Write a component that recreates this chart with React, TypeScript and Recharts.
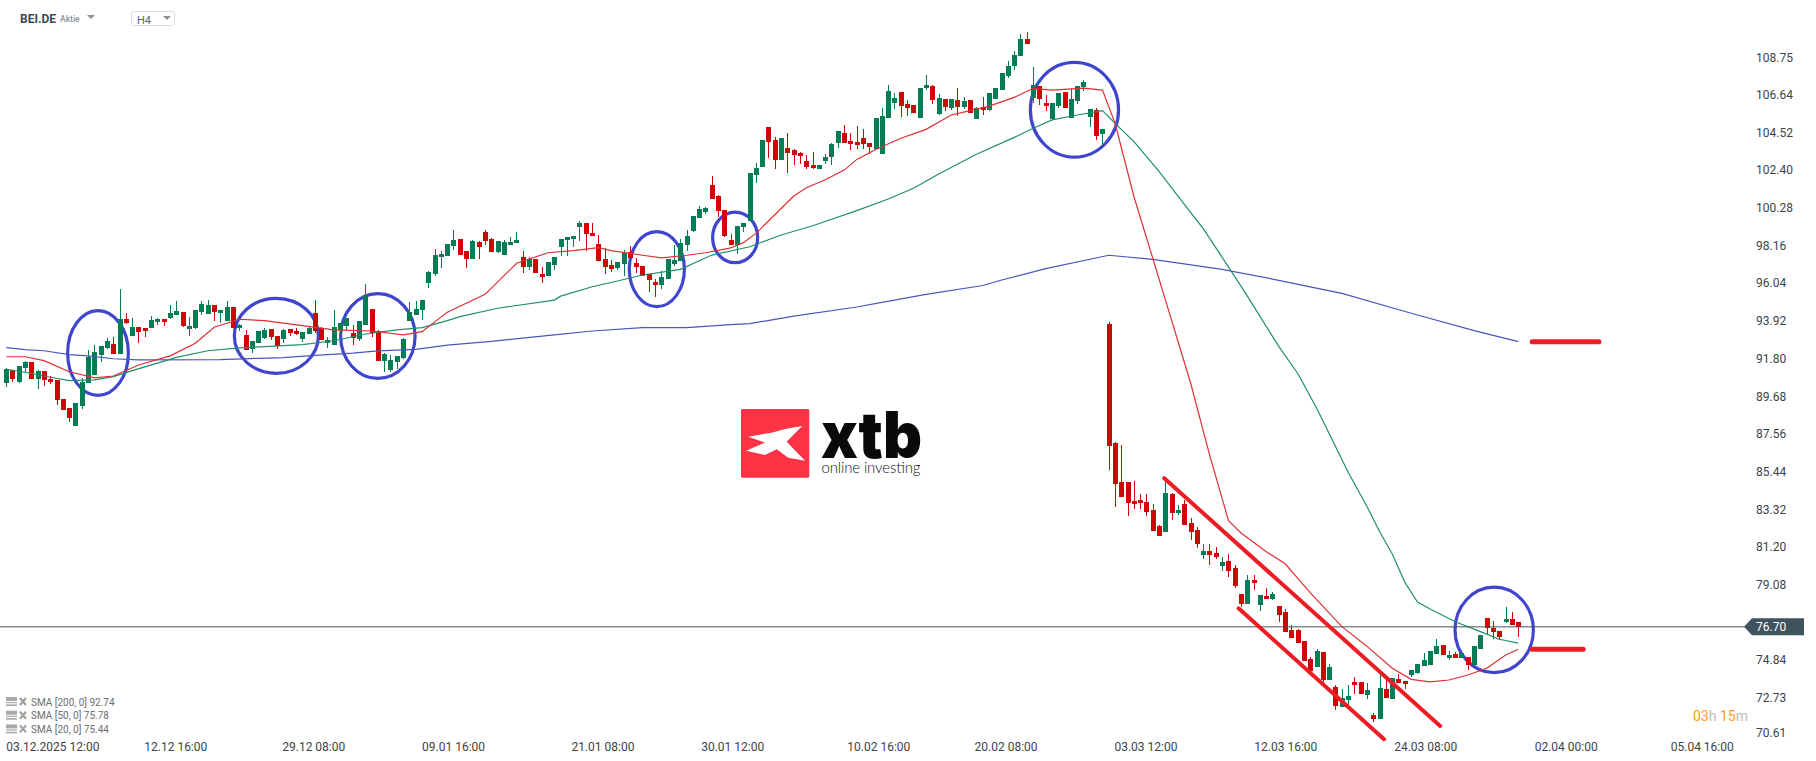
import { Bar, ComposedChart, Line, ReferenceArea, ReferenceLine, XAxis, YAxis } from 'recharts';

const FONT = 'Roboto, sans-serif';
const UP = '#047d57';
const DOWN = '#d00606';
const MARK = '#ee1c25';
const RING = '#3f45cc';

const opens = [
  90.43, 91.17, 90.47, 91.26, 91.6, 90.64, 91.09, 90.64, 90.58, 89.51,
  89.0, 87.98, 89.11, 90.4, 90.86, 91.99, 92.38, 92.61, 92.04, 94.02,
  93.06, 93.57, 93.51, 93.51, 93.85, 94.02, 94.08, 94.25, 94.42, 93.45,
  93.51, 94.42, 94.3, 94.81, 94.36, 93.91, 94.7, 93.51, 93.12, 92.32,
  92.66, 92.95, 93.45, 93.06, 92.89, 93.45, 93.34, 92.89, 93.17, 94.36,
  93.51, 92.66, 92.55, 93.4, 93.62, 93.23, 92.89, 93.68, 94.59, 93.34,
  91.65, 91.14, 91.59, 91.82, 93.91, 94.25, 94.53, 96.05, 96.53, 97.49,
  97.54, 98.11, 98.51, 97.83, 97.37, 98.34, 98.9, 98.51, 97.77, 97.6,
  98.17, 98.28, 97.49, 96.92, 97.38, 96.53, 96.41, 97.04, 98.05, 98.45,
  98.51, 99.18, 99.41, 98.84, 98.22, 97.37, 97.04, 96.87, 97.09, 97.77,
  97.15, 96.98, 96.53, 96.07, 95.91, 96.24, 97.09, 97.26, 98.17, 98.96,
  99.69, 100.03, 101.56, 100.94, 100.14, 98.45, 98.17, 99.19, 99.55, 102.1,
  102.55, 104.81, 104.07, 102.94, 103.62, 103.51, 103.34, 102.89, 102.66, 102.43,
  102.89, 103.11, 103.9, 104.47, 104.02, 103.96, 104.19, 103.9, 103.57, 103.28,
  105.32, 106.17, 106.79, 106.11, 106.06, 105.32, 107.02, 107.13, 105.55, 106.39,
  105.89, 106.34, 105.94, 106.34, 105.26, 105.94, 105.77, 106.39, 106.9, 107.69,
  108.26, 108.83, 109.79, 106.45, 107.13, 106.17, 105.26, 106.0, 106.79, 105.32,
  106.28, 107.07, 105.38, 105.77, 104.42, 93.76, 87.04, 84.87, 84.82, 83.8,
  83.86, 83.74, 83.29, 82.39, 82.05, 84.19, 83.12, 83.63, 82.56, 82.16,
  80.75, 80.97, 80.86, 80.12, 80.41, 80.01, 78.56, 77.99, 79.35, 77.94,
  78.44, 78.28, 77.88, 77.54, 76.52, 76.52, 75.9, 74.88, 74.43, 75.28,
  73.7, 73.31, 72.18, 72.58, 73.59, 73.59, 72.86, 71.73, 71.5, 73.2,
  72.63, 73.76, 73.65, 73.99, 74.1, 74.5, 74.56, 75.18, 75.69, 74.95,
  75.18, 74.95, 75.01, 74.56, 75.46, 77.21, 76.65, 76.48, 76.99, 77.15, 76.99,
];

const highs = [
  91.24, 91.17, 91.37, 91.64, 91.6, 91.15, 91.09, 90.81, 90.58, 89.51,
  89.0, 89.28, 90.7, 92.27, 92.55, 92.49, 92.95, 93.0, 95.72, 94.36,
  94.08, 93.57, 93.51, 94.19, 94.08, 94.02, 94.81, 95.04, 94.42, 94.13,
  94.53, 95.04, 95.09, 94.81, 94.53, 95.04, 94.7, 93.74, 93.4, 92.78,
  93.34, 93.51, 93.45, 93.06, 93.45, 93.45, 93.51, 93.29, 93.57, 95.09,
  93.57, 93.0, 94.53, 93.79, 94.08, 93.68, 93.91, 96.0, 94.59, 93.4,
  92.1, 91.99, 91.93, 92.95, 94.98, 95.04, 95.09, 96.73, 97.94, 97.83,
  98.22, 99.01, 98.51, 97.83, 98.45, 98.39, 99.03, 98.56, 98.39, 98.45,
  98.62, 98.9, 97.83, 97.49, 97.38, 96.92, 97.21, 97.49, 98.51, 98.62,
  98.67, 99.52, 99.41, 99.41, 98.73, 98.0, 97.32, 97.21, 97.88, 98.11,
  97.43, 96.98, 96.53, 96.24, 96.7, 97.37, 98.17, 98.51, 99.01, 99.81,
  100.37, 100.31, 102.07, 101.0, 100.14, 98.79, 99.24, 99.41, 102.21, 102.77,
  104.07, 104.81, 104.24, 104.19, 104.47, 103.55, 103.4, 103.23, 103.4, 102.66,
  103.28, 103.9, 104.58, 104.92, 104.47, 104.87, 104.7, 103.9, 105.32, 105.88,
  107.19, 106.73, 106.79, 106.34, 106.06, 107.02, 107.75, 107.19, 106.68, 106.39,
  106.39, 107.02, 106.51, 106.34, 105.94, 106.51, 106.73, 107.02, 107.86, 108.54,
  109.11, 110.07, 110.18, 108.2, 107.13, 106.62, 106.17, 106.73, 106.79, 106.96,
  107.13, 107.47, 105.83, 105.89, 104.7, 93.82, 87.09, 86.91, 84.82, 84.93,
  84.2, 84.2, 83.63, 82.42, 85.08, 84.23, 83.57, 83.86, 82.84, 82.33,
  81.37, 81.37, 81.2, 80.63, 80.8, 80.18, 78.56, 79.63, 79.63, 78.5,
  78.9, 78.67, 77.88, 77.71, 76.8, 76.57, 75.9, 75.0, 75.45, 75.28,
  74.6, 73.42, 73.2, 73.42, 73.88, 73.59, 73.54, 71.84, 73.99, 73.71,
  73.82, 74.05, 73.65, 74.27, 74.61, 75.23, 75.35, 76.02, 75.69, 75.35,
  75.29, 75.23, 75.01, 75.63, 76.25, 77.21, 77.04, 76.48, 77.83, 77.55, 76.99,
];

const lows = [
  90.21, 90.47, 90.41, 91.05, 90.64, 90.08, 90.24, 90.36, 89.17, 88.89,
  88.21, 87.98, 88.94, 90.4, 90.86, 91.59, 92.32, 92.04, 92.04, 93.74,
  93.06, 92.66, 93.0, 93.51, 93.68, 93.62, 94.02, 94.25, 93.57, 93.06,
  93.45, 94.25, 94.3, 93.91, 93.79, 93.91, 93.51, 93.34, 92.27, 92.1,
  92.66, 92.89, 92.83, 92.32, 92.66, 93.06, 93.12, 92.72, 93.17, 93.23,
  92.83, 92.38, 92.55, 93.17, 93.4, 92.55, 92.78, 93.68, 93.0, 91.65,
  91.02, 91.02, 91.19, 91.76, 93.91, 94.25, 93.96, 95.77, 96.41, 96.87,
  97.54, 97.88, 97.6, 96.87, 97.37, 97.37, 98.17, 97.77, 97.71, 97.6,
  98.17, 98.28, 96.58, 96.75, 96.58, 96.02, 96.41, 96.75, 97.54, 97.54,
  98.05, 98.39, 97.83, 98.67, 97.26, 96.53, 96.64, 96.75, 96.41, 97.43,
  96.58, 96.41, 95.51, 95.23, 95.68, 96.24, 96.98, 97.26, 97.83, 98.9,
  99.69, 99.92, 100.77, 99.77, 98.63, 98.17, 97.66, 98.9, 99.55, 101.64,
  102.55, 103.06, 102.43, 102.94, 102.21, 102.66, 102.72, 102.43, 102.43, 102.43,
  102.72, 102.66, 103.62, 103.9, 103.51, 103.57, 103.57, 103.28, 103.57, 103.28,
  105.32, 105.83, 105.38, 105.43, 105.6, 105.32, 106.9, 106.11, 105.49, 105.72,
  105.77, 105.43, 105.83, 105.6, 105.26, 105.49, 105.72, 106.39, 106.9, 107.58,
  108.03, 108.83, 109.5, 106.17, 106.06, 105.72, 105.26, 105.89, 105.89, 105.32,
  106.11, 106.85, 104.81, 104.08, 103.74, 85.51, 83.42, 84.03, 82.95, 83.34,
  83.34, 82.95, 82.1, 81.82, 82.05, 82.73, 83.01, 82.44, 81.59, 81.14,
  80.52, 80.18, 80.52, 79.84, 79.5, 78.88, 77.82, 77.99, 78.78, 77.6,
  78.28, 78.22, 76.98, 76.41, 76.07, 75.79, 74.77, 74.21, 74.43, 73.58,
  73.7, 72.01, 72.18, 72.07, 72.92, 72.92, 72.66, 71.33, 71.5, 72.69,
  72.63, 73.54, 73.2, 73.88, 74.06, 74.5, 74.56, 75.18, 75.12, 74.84,
  74.95, 74.95, 74.27, 74.56, 75.46, 76.31, 76.02, 75.97, 76.93, 76.82, 76.14,
];

const closes = [
  91.2, 90.64, 91.37, 91.6, 90.64, 91.09, 90.58, 90.47, 89.45, 88.89,
  88.43, 89.28, 90.47, 91.89, 92.15, 92.49, 92.78, 92.04, 94.02, 93.79,
  93.57, 93.29, 93.34, 93.96, 94.02, 93.85, 94.36, 94.47, 93.62, 93.62,
  94.53, 94.87, 94.81, 94.42, 94.53, 94.7, 93.51, 93.68, 92.27, 92.78,
  93.34, 93.4, 93.0, 92.49, 93.4, 93.23, 93.17, 93.29, 93.51, 93.34,
  92.83, 92.83, 93.57, 93.79, 94.08, 92.97, 93.91, 95.38, 93.23, 91.65,
  92.04, 91.7, 91.93, 92.89, 94.42, 94.59, 95.09, 96.68, 97.6, 97.66,
  98.22, 98.45, 97.6, 97.37, 98.39, 98.05, 98.39, 97.77, 98.39, 98.34,
  98.34, 98.45, 96.92, 97.38, 96.58, 96.36, 97.21, 97.49, 98.51, 98.62,
  98.67, 99.41, 98.79, 98.67, 97.26, 96.92, 96.81, 97.21, 97.71, 97.43,
  96.92, 96.41, 96.19, 95.91, 96.36, 97.37, 97.32, 98.28, 98.67, 99.81,
  100.2, 100.26, 100.77, 100.09, 98.67, 98.17, 99.24, 99.41, 102.21, 102.49,
  104.07, 103.96, 102.94, 104.19, 103.34, 103.23, 103.17, 102.55, 102.49, 102.66,
  103.11, 103.85, 104.58, 103.9, 103.85, 103.79, 103.85, 103.68, 105.32, 105.43,
  106.85, 106.45, 106.0, 105.89, 105.6, 107.02, 107.19, 106.34, 106.45, 105.94,
  106.39, 105.94, 106.28, 105.6, 105.89, 105.77, 106.73, 107.02, 107.86, 108.26,
  108.88, 109.79, 109.5, 107.19, 106.39, 106.0, 106.17, 106.73, 105.89, 106.39,
  107.13, 107.36, 105.83, 104.3, 104.7, 86.87, 84.72, 84.03, 83.69, 83.63,
  83.69, 83.18, 82.1, 81.82, 84.25, 83.12, 83.29, 82.44, 82.05, 81.37,
  80.97, 80.75, 80.63, 80.35, 79.84, 79.0, 77.99, 79.35, 79.18, 78.5,
  78.28, 78.56, 77.37, 76.41, 76.07, 75.79, 74.77, 74.21, 75.34, 73.7,
  74.43, 72.24, 72.69, 72.8, 73.42, 72.92, 73.14, 71.5, 73.26, 72.69,
  73.82, 73.54, 73.48, 74.27, 74.61, 74.84, 75.35, 75.63, 75.12, 75.12,
  74.95, 75.23, 74.56, 75.63, 76.25, 76.65, 76.42, 76.14, 77.15, 76.82, 76.7,
];

// moving averages at the candles listed (straight between readings)
const sma20At = [0, 3, 6, 10, 14, 17, 21, 26, 30, 33, 37, 41, 47, 52, 58, 63, 66, 70, 76, 81, 86, 90, 94, 96, 101, 104, 108, 111, 115, 117, 119, 125, 127, 130, 133, 135, 138, 142, 146, 150, 153, 156, 160, 163, 166, 171, 174, 176, 179, 184, 188, 191, 194, 196, 200, 203, 205, 207, 212, 216, 220, 223, 226, 229, 232, 235, 238, 240];
const sma20 = [91.89, 91.89, 91.67, 91.05, 90.7, 90.81, 91.43, 91.94, 92.65, 93.55, 94.0, 93.92, 93.64, 93.4, 93.34, 93.12, 93.3, 94.4, 95.4, 97.15, 97.74, 97.86, 98.03, 97.86, 97.6, 97.45, 97.6, 97.74, 98.01, 98.31, 98.83, 100.93, 101.4, 101.85, 102.39, 102.99, 103.55, 104.18, 104.68, 105.49, 105.73, 105.99, 106.48, 106.99, 106.89, 107.0, 106.89, 105.02, 100.89, 95.08, 90.4, 86.37, 82.67, 81.98, 80.93, 80.25, 79.43, 78.61, 76.71, 75.6, 74.37, 73.75, 73.61, 73.71, 73.99, 74.37, 75.12, 75.44];

const sma50At = [0, 3, 7, 10, 14, 17, 20, 24, 27, 32, 37, 41, 47, 52, 57, 62, 66, 70, 72, 78, 87, 88, 93, 97, 101, 107, 112, 118, 123, 128, 135, 140, 144, 148, 154, 160, 163, 166, 170, 174, 176, 179, 183, 188, 190, 195, 197, 202, 205, 208, 213, 216, 218, 220, 222, 224, 226, 230, 234, 237, 240];
const sma50 = [91.19, 91.02, 90.74, 90.55, 90.59, 90.77, 91.11, 91.53, 91.86, 92.23, 92.39, 92.46, 92.57, 92.79, 93.17, 93.4, 93.53, 93.92, 94.15, 94.62, 95.08, 95.3, 95.83, 96.15, 96.49, 96.81, 97.61, 98.08, 98.74, 99.26, 100.11, 100.76, 101.37, 102.17, 103.28, 104.23, 104.74, 105.21, 105.49, 105.73, 105.02, 103.99, 102.3, 100.0, 99.1, 96.4, 95.3, 92.46, 90.95, 89.0, 85.4, 83.46, 82.05, 80.8, 79.2, 78.1, 77.7, 76.99, 76.43, 76.0, 75.78];

const sma200At = [0, 3, 6, 10, 13, 17, 21, 34, 40, 44, 49, 55, 59, 65, 70, 77, 87, 93, 101, 108, 115, 118, 125, 135, 139, 146, 155, 158, 165, 175, 182, 193, 201, 212, 223, 233, 240];
const sma200 = [92.4, 92.29, 92.23, 92.01, 91.94, 91.78, 91.71, 91.73, 91.8, 91.84, 91.97, 92.09, 92.22, 92.31, 92.54, 92.76, 93.12, 93.34, 93.53, 93.53, 93.7, 93.75, 94.18, 94.69, 94.95, 95.4, 95.9, 96.21, 96.85, 97.6, 97.37, 96.81, 96.26, 95.46, 94.34, 93.36, 92.74];

const lastPrice = 76.7;
const priceTicks = [108.75, 106.64, 104.52, 102.4, 100.28, 98.16, 96.04, 93.92, 91.8, 89.68, 87.56, 85.44, 83.32, 81.2, 79.08, 76.7, 74.84, 72.73, 70.61];

// time axis slots, the last ones lie past the final candle
const timeTicks = [0, 26.9, 48.8, 71, 94.7, 115.3, 138.5, 158.7, 180.9, 203.1, 225.3, 247.6, 269.2];
const timeLabels = ['03.12.2025 12:00', '12.12 16:00', '29.12 08:00', '09.01 16:00', '21.01 08:00', '30.01 12:00', '10.02 16:00', '20.02 08:00', '03.03 12:00', '12.03 16:00', '24.03 08:00', '02.04 00:00', '05.04 16:00'];

// hand drawn rings: candle from, candle to, price top, price bottom
const rings = [
  [9.48, 19.63, 94.58, 89.63],
  [35.94, 49.79, 95.27, 90.87],
  [52.81, 65.14, 95.53, 90.58],
  [98.63, 107.89, 99.02, 94.62],
  [111.86, 119.52, 100.11, 97.09],
  [162.3, 176.8, 108.54, 103.03],
  [229.7, 242.65, 79.02, 74.03],
];

// hand drawn channel and target marks: candle, price, candle, price
const strokes = [
  [183.8, 85.06, 227.6, 71.13],
  [195.6, 77.74, 218.7, 70.38],
  [242.2, 92.74, 252.8, 92.74],
  [242.2, 75.44, 250.3, 75.44],
];

const legendRows = ['SMA [200, 0] 92.74', 'SMA [50, 0] 75.78', 'SMA [20, 0] 75.44'];

const readAt = (at: number[], values: number[], i: number) => {
  const k = at.indexOf(i);
  return k < 0 ? null : values[k];
};

const rows = opens.map((open, i) => ({
  i,
  open,
  high: highs[i],
  low: lows[i],
  close: closes[i],
  range: [lows[i], highs[i]],
  sma20: readAt(sma20At, sma20, i),
  sma50: readAt(sma50At, sma50, i),
  sma200: readAt(sma200At, sma200, i),
}));

function Candle(props: any) {
  const { x, y, width, height, payload } = props;
  const { open, close, high, low } = payload;
  const color = close >= open ? UP : DOWN;
  const perPrice = height / Math.max(high - low, 0.01);
  const bodyTop = y + (high - Math.max(open, close)) * perPrice;
  const bodyH = Math.max(Math.abs(open - close) * perPrice, 1);
  const left = Math.round(x + width / 2 - 2.5);
  return (
    <g shapeRendering="crispEdges">
      <rect x={left + 2} y={y} width={1} height={height} fill={color} />
      <rect x={left} y={bodyTop} width={5} height={bodyH} fill={color} />
    </g>
  );
}

function Ring(props: any) {
  const { x, y, width, height } = props;
  return (
    <ellipse
      cx={x + width / 2}
      cy={y + height / 2}
      rx={width / 2 - 1.6}
      ry={height / 2 - 1.6}
      fill="none"
      stroke={RING}
      strokeWidth={3.2}
    />
  );
}

function PriceTick(props: any) {
  const { x, y, payload } = props;
  if (payload.value === lastPrice) {
    return (
      <g>
        <polygon points={`${x - 12},${y} ${x - 4},${y - 8.5} ${x + 48},${y - 8.5} ${x + 48},${y + 8.5} ${x - 4},${y + 8.5}`} fill="#41525f" />
        <text x={x} y={y + 4.5} fontSize={12} fontFamily={FONT} fill="#ffffff">
          {payload.value.toFixed(2)}
        </text>
      </g>
    );
  }
  // the bottom label sits a little higher than its level so it stays clear of the time axis
  const lift = payload.value === 70.61 ? -3 : 0;
  return (
    <text x={x} y={y + 4.5 + lift} fontSize={12} fontFamily={FONT} fill="#3d4348">
      {payload.value.toFixed(2)}
    </text>
  );
}

function TimeTick(props: any) {
  const { x, y, index } = props;
  return (
    <text x={x} y={y + 2} fontSize={12} fontFamily={FONT} fill="#3d4348" textAnchor={index === 0 ? 'start' : 'middle'}>
      {timeLabels[index]}
    </text>
  );
}

function Overlay() {
  return (
    <svg width={1816} height={761} style={{ position: 'absolute', left: 0, top: 0 }} fontFamily={FONT}>
      {/* header */}
      <text x={20} y={23} fontSize={12} fontWeight={700} fill="#3d4a54">BEI.DE</text>
      <text x={60} y={22} fontSize={8.5} fontWeight={500} fill="#8b9499">Aktie</text>
      <polygon points="87,15 95,15 91,19" fill="#8f8f8f" />
      <rect x={131.5} y={11.5} width={43} height={14} rx={2} fill="#fff" stroke="#dddddd" />
      <text x={137} y={24} fontSize={11} fill="#5a6268">H4</text>
      <polygon points="163,16 171,16 167,20" fill="#8f8f8f" />

      {/* indicator legend */}
      {legendRows.map((row, i) => {
        const y = 702 + i * 13.7;
        return (
          <g key={row}>
            <rect x={6} y={y - 5} width={11} height={4} fill="#a9a9a9" />
            <rect x={6} y={y} width={11} height={1.2} fill="#a9a9a9" />
            <rect x={6} y={y + 2.4} width={11} height={1.6} fill="#a9a9a9" />
            <path d={`M20 ${y - 4} L26 ${y + 3} M26 ${y - 4} L20 ${y + 3}`} stroke="#a0a0a0" strokeWidth={2.2} />
            <text x={31} y={y + 3.5} fontSize={10} fill="#6d6d6d">{row}</text>
          </g>
        );
      })}

      {/* countdown */}
      <text x={1693} y={721} fontSize={14}>
        <tspan fill="#ff9a1f">03</tspan>
        <tspan fill="#bdbdbd">h </tspan>
        <tspan fill="#ff9a1f">15</tspan>
        <tspan fill="#bdbdbd">m</tspan>
      </text>

      {/* logo */}
      <rect x={741} y={409} width={68.3} height={68.7} rx={1.5} fill="#fb3345" />
      <polygon
        points="748.3,436.7 771.7,432.7 785,429 802.3,426 786.7,441.7 805,460.7 788.3,457.7 776.7,449.3 765,455 746,450.7 765,442.7"
        fill="#ffffff"
      />
      <text x={821} y={458} fontSize={64} fontFamily="Inter, sans-serif" fontWeight={900} fill="#0a0a0a" textLength={101} lengthAdjust="spacingAndGlyphs">
        xtb
      </text>
      <text x={821.5} y={473} fontSize={15} fontFamily="Lato, sans-serif" fontWeight={300} fill="#111111" textLength={99}>
        online investing
      </text>
    </svg>
  );
}

export default function App() {
  return (
    <div style={{ position: 'absolute', left: 0, top: 0, width: 1816, height: 761, overflow: 'hidden', background: '#fff' }}>
      <Overlay />
      <div style={{ position: 'absolute', left: 0, top: 0 }}>
        <ComposedChart width={1816} height={761} data={rows} margin={{ top: 0, right: 0, bottom: 0, left: 0 }}>
          <XAxis
            dataKey="i"
            type="number"
            domain={[-1, 276.78]}
            allowDataOverflow
            ticks={timeTicks}
            interval={0}
            axisLine={false}
            tickLine={false}
            height={20}
            tick={<TimeTick />}
          />
          <YAxis
            orientation="right"
            width={66}
            domain={[70.28, 111.956]}
            allowDataOverflow
            ticks={priceTicks}
            interval={0}
            axisLine={false}
            tickLine={false}
            tickMargin={6}
            tickSize={0}
            tick={<PriceTick />}
          />
          <Line dataKey="sma200" stroke="#4a56bb" strokeWidth={1.2} dot={false} activeDot={false} connectNulls isAnimationActive={false} />
          <Line dataKey="sma50" stroke="#1f8f6a" strokeWidth={1.2} dot={false} activeDot={false} connectNulls isAnimationActive={false} />
          <Line dataKey="sma20" stroke="#df2f35" strokeWidth={1.2} dot={false} activeDot={false} connectNulls isAnimationActive={false} />
          <Bar dataKey="range" barSize={5} shape={<Candle />} isAnimationActive={false} />
          <ReferenceLine y={lastPrice} stroke="#43525c" strokeWidth={1} />
          {strokes.map(([x1, y1, x2, y2]) => (
            <ReferenceLine
              key={`${x1}-${y1}`}
              segment={[{ x: x1, y: y1 }, { x: x2, y: y2 }]}
              stroke={MARK}
              strokeWidth={y1 === y2 ? 5 : 4}
              strokeLinecap="round"
            />
          ))}
          {rings.map(([x1, x2, y1, y2]) => (
            <ReferenceArea key={x1} x1={x1} x2={x2} y1={y1} y2={y2} shape={<Ring />} />
          ))}
        </ComposedChart>
      </div>
    </div>
  );
}
